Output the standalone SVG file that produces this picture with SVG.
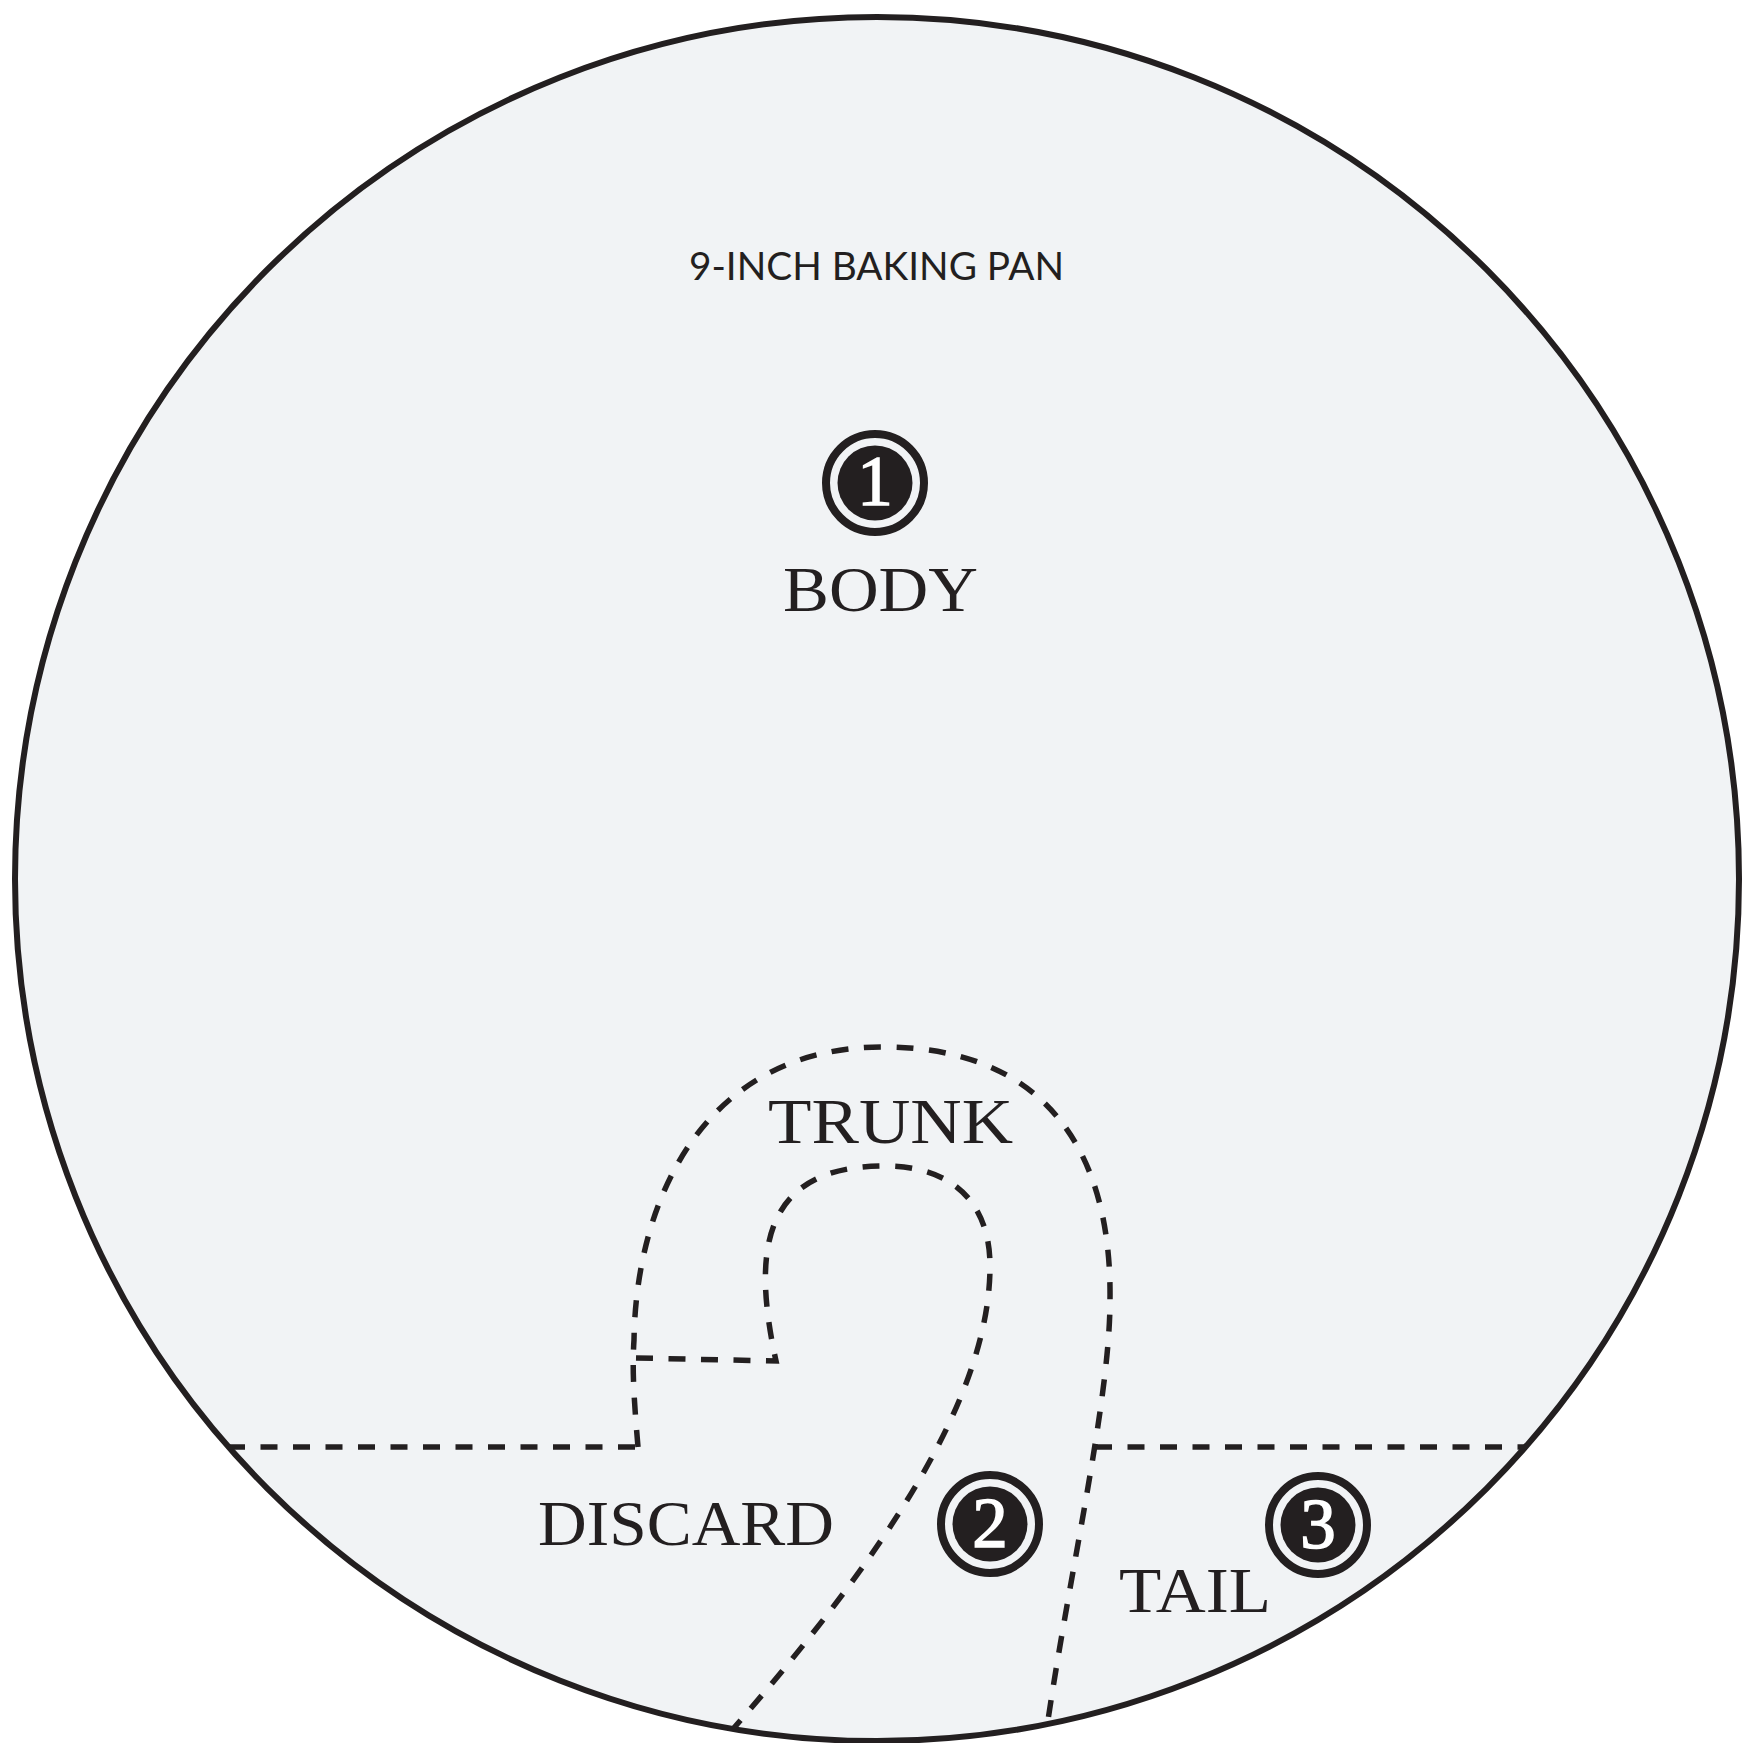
<svg xmlns="http://www.w3.org/2000/svg" width="1749" height="1743" viewBox="0 0 1749 1743">
<style>
.lbl{font-family:"Liberation Serif",serif;font-size:64px;fill:#231f20}
.num{font-family:"Liberation Serif",serif;font-size:71px;fill:#fff;stroke:#fff;stroke-width:1.5;text-anchor:middle}
.ring{fill:#f1f3f5;stroke:#231f20;stroke-width:8}
.dot{fill:#231f20}
.dash{fill:none;stroke:#231f20;stroke-width:5.5;stroke-dasharray:17 15.5}
</style>
<rect width="1749" height="1743" fill="#fff"/>
<circle id="pan" cx="877" cy="879" r="862" fill="#f1f3f5" stroke="#231f20" stroke-width="6"/>
<g id="connectors">
<path class="dash" d="M228 1447H638"/>
<path class="dash" d="M1095 1447H1527"/>
<path class="dash" d="M638 1447C634 1400 632 1370 634 1340C636 1200 704 1047 883 1047C1044 1047 1112 1150 1110 1300C1110 1400 1070 1570 1047 1727"/>
<path class="dash" d="M636 1358L776 1361C754 1260 756 1166 884 1166C960 1166 990 1210 990 1266C990 1400 880 1560 733 1729"/>
</g>
<text x="689" y="280" textLength="375" lengthAdjust="spacingAndGlyphs" style="font-family:Lato,sans-serif;font-size:38px;fill:#231f20">9-INCH BAKING PAN</text>
<g id="body"><circle class="ring" cx="875" cy="483" r="49"/><circle class="dot" cx="875" cy="483" r="37.5"/><text class="num" x="875" y="505">1</text>
<text class="lbl" x="783" y="611" textLength="195" lengthAdjust="spacingAndGlyphs">BODY</text></g>
<g id="trunk"><text class="lbl" x="768" y="1143" textLength="245" lengthAdjust="spacingAndGlyphs">TRUNK</text></g>
<g id="discard"><circle class="ring" cx="990" cy="1524" r="49"/><circle class="dot" cx="990" cy="1524" r="37.5"/><text class="num" x="990" y="1547">2</text>
<text class="lbl" x="538" y="1545" textLength="296" lengthAdjust="spacingAndGlyphs">DISCARD</text></g>
<g id="tail"><circle class="ring" cx="1318" cy="1525" r="49"/><circle class="dot" cx="1318" cy="1525" r="37.5"/><text class="num" x="1318" y="1548">3</text>
<text class="lbl" x="1119" y="1612" textLength="152" lengthAdjust="spacingAndGlyphs">TAIL</text></g>
</svg>
